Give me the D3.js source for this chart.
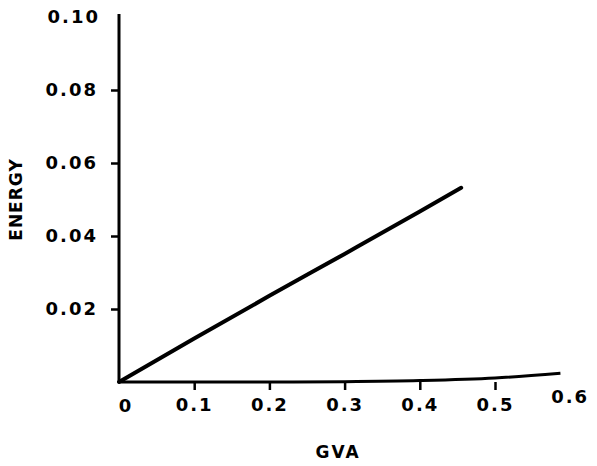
<!DOCTYPE html>
<html>
<head>
<meta charset="utf-8">
<script src="https://cdn.jsdelivr.net/npm/d3@7"></script>
<style>
  body { margin: 0; background: #fff; }
  text { font-family: "DejaVu Sans", sans-serif; font-weight: bold; fill: #000; }
</style>
</head>
<body>
<div id="chart"></div>
<script>
// data
var xTicks = [0, 0.1, 0.2, 0.3, 0.4, 0.5, 0.6];
var xTickLabels = ["0", "0.1", "0.2", "0.3", "0.4", "0.5", "0.6"];
var yTicks = [0.02, 0.04, 0.06, 0.08, 0.10];
var yTickLabels = ["0.02", "0.04", "0.06", "0.08", "0.10"];

var mainGva = [0, 0.1, 0.2, 0.3, 0.4, 0.455];
var mainEnergy = [0, 0.0119, 0.0236, 0.0351, 0.0467, 0.0532];

var baseGva = [0, 0.2, 0.3, 0.4, 0.5, 0.587];
var baseEnergy = [0, 0, 0.0001, 0.0004, 0.0011, 0.0024];

var margin = { top: 14, right: 36, bottom: 84, left: 119 };
var width = 597 - margin.left - margin.right,
    height = 466 - margin.top - margin.bottom;

var svg = d3.select("#chart").append("svg")
    .attr("width", 597)
    .attr("height", 466)
    .append("g")
    .attr("transform", "translate(" + margin.left + "," + margin.top + ")");

var x = d3.scaleLinear().domain([0, 0.587]).range([0, 0.587 * 752]);
var y = d3.scaleLinear().domain([0, 0.1]).range([height, height - 365]);

var line = d3.line()
    .curve(d3.curveMonotoneX)
    .x(function(d) { return x(d[0]); })
    .y(function(d) { return y(d[1]); });

// y axis
var yAxis = d3.axisLeft(y)
    .tickValues(yTicks.slice(0, 4))
    .tickFormat(function(d, i) { return yTickLabels[i]; })
    .tickSize(8)
    .tickPadding(13);

var yAxisElem = svg.append("g").call(yAxis);
yAxisElem.select(".domain").remove();
yAxisElem.selectAll(".tick line").attr("stroke", "#000").attr("stroke-width", 2.5);
yAxisElem.selectAll(".tick text")
    .attr("font-size", "18px")
    .attr("letter-spacing", "2px");

svg.append("line")
    .attr("x1", 0).attr("x2", 0)
    .attr("y1", y(0)).attr("y2", y(0.1) - 3)
    .attr("stroke", "#000").attr("stroke-width", 3);

svg.append("text")
    .attr("x", -19)
    .attr("y", y(0.1) + 6)
    .attr("text-anchor", "end")
    .attr("font-size", "18px")
    .attr("letter-spacing", "2px")
    .text(yTickLabels[4]);

// x axis
var xAxis = d3.axisBottom(x)
    .tickValues(xTicks.slice(1, 6))
    .tickFormat(function(d, i) { return xTickLabels[i + 1]; })
    .tickSize(8)
    .tickPadding(8);

var xAxisElem = svg.append("g")
    .attr("transform", "translate(0," + height + ")")
    .call(xAxis);
xAxisElem.select(".domain").remove();
xAxisElem.selectAll(".tick line").attr("stroke", "#000").attr("stroke-width", 2.5);
xAxisElem.selectAll(".tick text")
    .attr("font-size", "18px")
    .attr("letter-spacing", "2px");

svg.append("text")
    .attr("x", x(0) + 6)
    .attr("y", height + 30)
    .attr("text-anchor", "middle")
    .attr("font-size", "18px")
    .text(xTickLabels[0]);

svg.append("text")
    .attr("x", x(0.6))
    .attr("y", height + 21)
    .attr("text-anchor", "middle")
    .attr("font-size", "18px")
    .attr("letter-spacing", "2px")
    .text(xTickLabels[6]);

// baseline curve (the bottom axis line)
svg.append("path")
    .attr("d", line(d3.zip(baseGva, baseEnergy)))
    .attr("fill", "none")
    .attr("stroke", "#000")
    .attr("stroke-width", 3);

// main line
svg.append("path")
    .attr("d", line(d3.zip(mainGva, mainEnergy)))
    .attr("fill", "none")
    .attr("stroke", "#000")
    .attr("stroke-width", 4)
    .attr("stroke-linecap", "round");

// axis titles
svg.append("text")
    .attr("x", 219)
    .attr("y", height + 76)
    .attr("text-anchor", "middle")
    .attr("font-size", "17px")
    .attr("letter-spacing", "2px")
    .text("GVA");

svg.append("text")
    .attr("transform", "translate(-97," + (y(0.05)) + ") rotate(-90)")
    .attr("text-anchor", "middle")
    .attr("font-size", "17px")
    .attr("letter-spacing", "1px")
    .text("ENERGY");
</script>
</body>
</html>
